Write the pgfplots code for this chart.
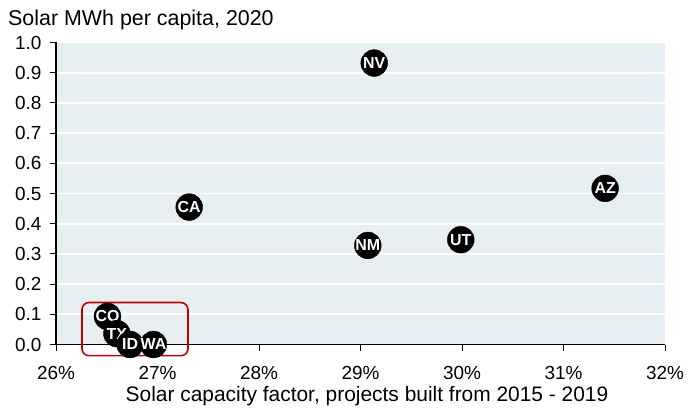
\documentclass[border=0pt]{standalone}
\usepackage{fontspec}
\setmainfont{Liberation Sans}
\usepackage{pgfplots}
\pgfplotsset{compat=1.18}
\definecolor{bgc}{RGB}{231,239,242}
\definecolor{boxred}{RGB}{192,0,0}
\begin{document}
\begin{tikzpicture}[x=1bp,y=1bp]
\useasboundingbox (0,0) rectangle (699,408);
\begin{axis}[
  at={(56bp,63.5bp)}, anchor=south west,
  scale only axis, width=609bp, height=302bp,
  xmin=26, xmax=32, ymin=0, ymax=1,
  axis x line*=bottom, axis y line*=left,
  axis line style={black, line width=1.2bp, -},
  axis background/.style={fill=bgc},
  xtick={26,27,...,32}, ytick={0,0.1,...,1.0},
  tick style={black, line width=1bp},
  major tick length=6bp,
  tick align=outside,
  ymajorgrids, grid style={white, line width=1.8bp},
  /pgf/number format/assume math mode=true,
  yticklabel style={/pgf/number format/fixed, /pgf/number format/fixed zerofill, /pgf/number format/precision=1, xshift=-5bp},
  xticklabel={\pgfmathprintnumber{\tick}\%},
  ticklabel style={font=\fontsize{19}{21}\selectfont},
  xticklabel style={yshift=-12bp},
  xlabel={Solar capacity factor, projects built from 2015 - 2019},
  xlabel style={font=\fontsize{21}{24}\selectfont, anchor=base, at={(axis description cs:0.5,0)}, yshift=-56.5bp, xshift=6.5bp},
  clip=false,
  point meta=explicit symbolic,
  nodes near coords,
  every node near coord/.append style={anchor=center, text=white, font=\fontsize{16}{18}\selectfont\bfseries, inner sep=0pt},
]
\addplot[only marks, mark=*, mark size=13.4bp, mark options={fill=black, draw=black}]
  table[meta=lab] {
x y lab
29.135 0.932 NV
31.41 0.517 AZ
27.312 0.455 CA
29.072 0.328 NM
29.988 0.347 UT
26.507 0.093 CO
26.60 0.036 TX
26.73 0.000 ID
26.96 0.000 WA
};
\draw[boxred, line width=1.6bp, rounded corners=7bp] (axis cs:26.256,0.139) rectangle (axis cs:27.30,-0.037);
\end{axis}
\node[anchor=base west, inner sep=0pt, font=\fontsize{21.5}{24}\selectfont] at (8,383) {Solar MWh per capita, 2020};
\end{tikzpicture}
\end{document}
